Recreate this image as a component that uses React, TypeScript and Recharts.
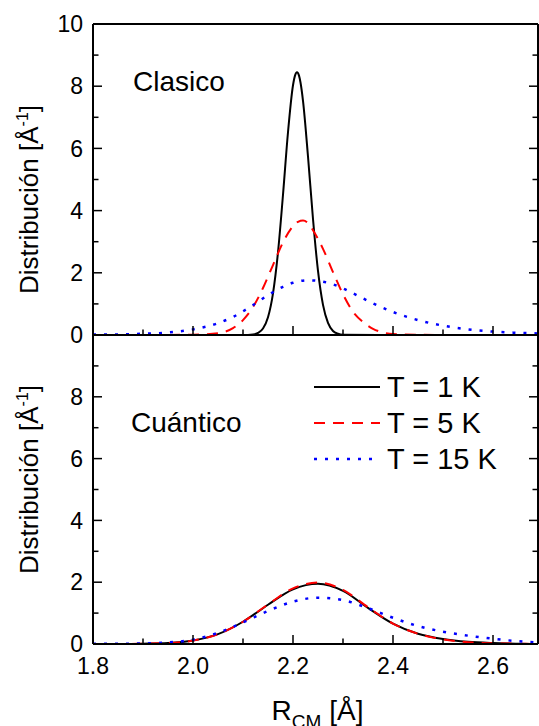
import React from 'react';
import { LineChart, Line, XAxis, YAxis, Legend, Label } from 'recharts';

const FONT = '"Liberation Sans", Arial, Helvetica, sans-serif';

const xTicks = [1.8, 1.9, 2.0, 2.1, 2.2, 2.3, 2.4, 2.5, 2.6];
const yTicks = [0, 1, 2, 3, 4, 5, 6, 7, 8, 9, 10];
const xDomain: [number, number] = [1.8, 2.69];
const yDomain: [number, number] = [0, 10];

const seriesNames = ['T = 1 K', 'T = 5 K', 'T = 15 K'];
const seriesColors = ['#000000', '#ff0000', '#0000ff'];
const seriesDashes = ['', '11 8', '3 8'];

// Clasico panel
const c1X = [1.8, 2.0, 2.1, 2.12, 2.13, 2.14, 2.15, 2.16, 2.17, 2.18, 2.19, 2.2, 2.204, 2.208, 2.212, 2.215, 2.22, 2.23, 2.24, 2.25, 2.26, 2.27, 2.28, 2.29, 2.3, 2.4, 2.69];
const c1Y = [0, 0, 0, 0.02, 0.07, 0.21, 0.57, 1.34, 2.66, 4.51, 6.52, 8.03, 8.34, 8.45, 8.34, 8.12, 7.53, 5.74, 3.73, 2.06, 0.97, 0.39, 0.13, 0.04, 0.01, 0, 0];

const c5X = [1.8, 1.9, 2.0, 2.05, 2.08, 2.1, 2.12, 2.14, 2.16, 2.18, 2.2, 2.21, 2.22, 2.23, 2.24, 2.26, 2.28, 2.3, 2.32, 2.34, 2.36, 2.38, 2.4, 2.45, 2.5, 2.6, 2.69];
const c5Y = [0, 0, 0.01, 0.06, 0.22, 0.48, 0.9, 1.51, 2.25, 2.98, 3.5, 3.64, 3.68, 3.6, 3.37, 2.77, 2.02, 1.31, 0.75, 0.42, 0.2, 0.08, 0.03, 0.01, 0, 0, 0];

const c15X = [1.8, 1.85, 1.9, 1.95, 2.0, 2.05, 2.08, 2.1, 2.12, 2.15, 2.18, 2.2, 2.23, 2.25, 2.28, 2.3, 2.33, 2.36, 2.4, 2.45, 2.5, 2.55, 2.6, 2.65, 2.69];
const c15Y = [0.02, 0.02, 0.04, 0.08, 0.18, 0.38, 0.58, 0.76, 0.96, 1.28, 1.55, 1.68, 1.76, 1.74, 1.63, 1.5, 1.26, 1.02, 0.74, 0.48, 0.3, 0.18, 0.11, 0.07, 0.05];

// Cuántico panel
const qX = [1.8, 1.85, 1.9, 1.95, 2.0, 2.05, 2.1, 2.15, 2.2, 2.25, 2.3, 2.35, 2.4, 2.45, 2.5, 2.55, 2.6, 2.65, 2.69];
const q1Y = [0, 0, 0.01, 0.03, 0.11, 0.32, 0.72, 1.27, 1.77, 1.95, 1.72, 1.17, 0.66, 0.33, 0.16, 0.07, 0.03, 0.01, 0];
const q5Y = [0, 0, 0.01, 0.03, 0.11, 0.32, 0.72, 1.28, 1.8, 1.99, 1.75, 1.19, 0.66, 0.33, 0.15, 0.06, 0.02, 0.01, 0];
const q15Y = [0.01, 0.01, 0.02, 0.05, 0.14, 0.36, 0.7, 1.07, 1.37, 1.5, 1.42, 1.16, 0.85, 0.58, 0.4, 0.27, 0.17, 0.09, 0.05];

const zip = (xs: number[], ys: number[]) => xs.map((x, i) => ({ x, y: ys[i] }));

const clasicoSeries = [zip(c1X, c1Y), zip(c5X, c5Y), zip(c15X, c15Y)];
const cuanticoSeries = [zip(qX, q1Y), zip(qX, q5Y), zip(qX, q15Y)];

const isMajorX = (v: number) => Math.round(v * 10) % 2 === 0;
const isMajorY = (v: number) => Math.round(v) % 2 === 0;
const MAJOR = 9;
const MINOR = 5.5;
const TICK_FS = 23;

const makeBottomTick = (labels: boolean) => (p: any) => {
  const v = Number(p.payload.value);
  const major = isMajorX(v);
  return (
    <g>
      <line x1={p.x} x2={p.x} y1={p.y} y2={p.y - (major ? MAJOR : MINOR)} stroke="#000" strokeWidth={1.5} />
      {labels && major && (
        <text x={p.x} y={p.y + 30} textAnchor="middle" fontSize={TICK_FS} fontFamily={FONT} fill="#000">
          {v.toFixed(1)}
        </text>
      )}
    </g>
  );
};

const topTick = (p: any) => {
  const v = Number(p.payload.value);
  const major = isMajorX(v);
  return <line x1={p.x} x2={p.x} y1={p.y} y2={p.y + (major ? MAJOR : MINOR)} stroke="#000" strokeWidth={1.5} />;
};

const makeLeftTick = (maxLabel: number) => (p: any) => {
  const v = Number(p.payload.value);
  const major = isMajorY(v);
  return (
    <g>
      <line x1={p.x} x2={p.x + (major ? MAJOR : MINOR)} y1={p.y} y2={p.y} stroke="#000" strokeWidth={1.5} />
      {major && v <= maxLabel && (
        <text x={p.x - 10} y={p.y} dy="0.36em" textAnchor="end" fontSize={TICK_FS} fontFamily={FONT} fill="#000">
          {v}
        </text>
      )}
    </g>
  );
};

const rightTick = (p: any) => {
  const v = Number(p.payload.value);
  const major = isMajorY(v);
  return <line x1={p.x} x2={p.x - (major ? MAJOR : MINOR)} y1={p.y} y2={p.y} stroke="#000" strokeWidth={1.5} />;
};

const axisLine = { stroke: '#000', strokeWidth: 2 };

const makeYTitle = (shift: number) => (props: any) => {
  const vb = props.viewBox || {};
  const x = vb.x + 5;
  const y = vb.y + vb.height / 2 + shift;
  return (
    <text x={x} y={y} transform={`rotate(-90, ${x}, ${y})`} textAnchor="middle" fontSize={26} fontFamily={FONT} fill="#000">
      Distribución [Å<tspan dy={-10} fontSize={16}>-1</tspan>
      <tspan dy={10}>]</tspan>
    </text>
  );
};

const xTitle = (props: any) => {
  const vb = props.viewBox || {};
  const x = vb.x + vb.width / 2 + 2;
  const y = vb.y + 76;
  return (
    <text x={x} y={y} textAnchor="middle" fontSize={28} fontFamily={FONT} fill="#000">
      R<tspan dy={8} fontSize={19}>CM</tspan>
      <tspan dy={-8}> [Å]</tspan>
    </text>
  );
};

const renderLegend = () => (
  <div style={{ fontFamily: FONT }}>
    {seriesNames.map((n, i) => (
      <div key={n} style={{ display: 'flex', alignItems: 'center', height: 36 }}>
        <svg width={70} height={36} style={{ display: 'block' }}>
          <line
            x1={0}
            x2={i === 2 ? 64 : 66}
            y1={18}
            y2={18}
            stroke={seriesColors[i]}
            strokeWidth={i === 2 ? 2.5 : 2}
            strokeDasharray={seriesDashes[i] || undefined}
          />
        </svg>
        <span style={{ fontSize: 29, marginLeft: 3, lineHeight: '36px', color: '#000', whiteSpace: 'nowrap' }}>{n}</span>
      </div>
    ))}
  </div>
);

const renderLines = (series: { x: number; y: number }[][]) =>
  series.map((d, i) => (
    <Line
      key={seriesNames[i]}
      name={seriesNames[i]}
      data={d}
      dataKey="y"
      xAxisId="b"
      yAxisId="l"
      type="monotone"
      stroke={seriesColors[i]}
      strokeWidth={i === 2 ? 2.5 : 2}
      strokeDasharray={seriesDashes[i] || undefined}
      dot={false}
      activeDot={false}
      isAnimationActive={false}
    />
  ));

const commonAxes = (bottomLabels: boolean, bottomHeight: number, maxYLabel: number, titleShift: number) => [
  <XAxis
    key="b"
    xAxisId="b"
    dataKey="x"
    type="number"
    domain={xDomain}
    allowDataOverflow
    ticks={xTicks}
    interval={0}
    height={bottomHeight}
    tickSize={0}
    tickMargin={0}
    tickLine={false}
    axisLine={axisLine}
    tick={makeBottomTick(bottomLabels)}
    label={bottomLabels ? <Label content={xTitle} /> : undefined}
  />,
  <XAxis
    key="t"
    xAxisId="t"
    orientation="top"
    type="number"
    domain={xDomain}
    allowDataOverflow
    ticks={xTicks}
    interval={0}
    height={1}
    tickSize={0}
    tickMargin={0}
    tickLine={false}
    axisLine={axisLine}
    tick={topTick}
  />,
  <YAxis
    key="l"
    yAxisId="l"
    type="number"
    domain={yDomain}
    allowDataOverflow
    ticks={yTicks}
    interval={0}
    width={60}
    tickSize={0}
    tickMargin={0}
    tickLine={false}
    axisLine={axisLine}
    tick={makeLeftTick(maxYLabel)}
    label={<Label content={makeYTitle(titleShift)} />}
  />,
  <YAxis
    key="r"
    yAxisId="r"
    orientation="right"
    type="number"
    domain={yDomain}
    allowDataOverflow
    ticks={yTicks}
    interval={0}
    width={1}
    tickSize={0}
    tickMargin={0}
    tickLine={false}
    axisLine={axisLine}
    tick={rightTick}
  />,
];

export default function App() {
  return (
    <div style={{ position: 'absolute', left: 0, top: 0, width: 539, height: 726, background: '#fff' }}>
      <div style={{ position: 'absolute', left: 0, top: 0 }}>
        <LineChart width={539} height={350} margin={{ top: 23, right: 0, bottom: 14, left: 33 }}>
          {commonAxes(false, 1, 10, 20)}
          {renderLines(clasicoSeries)}
          <text x={133} y={90.7} fontSize={28} fontFamily={FONT} fill="#000">
            Clasico
          </text>
        </LineChart>
      </div>
      <div style={{ position: 'absolute', left: 0, top: 325 }}>
        <LineChart width={539} height={401} margin={{ top: 9, right: 0, bottom: 0, left: 33 }}>
          {commonAxes(true, 82, 8, -10)}
          {renderLines(cuanticoSeries)}
          <Legend
            layout="horizontal"
            verticalAlign="middle"
            align="center"
            content={renderLegend}
            wrapperStyle={{ left: 314, top: 43.7, width: 220 }}
          />
          <text x={131} y={106.7} fontSize={28} fontFamily={FONT} fill="#000">
            Cuántico
          </text>
        </LineChart>
      </div>
    </div>
  );
}
